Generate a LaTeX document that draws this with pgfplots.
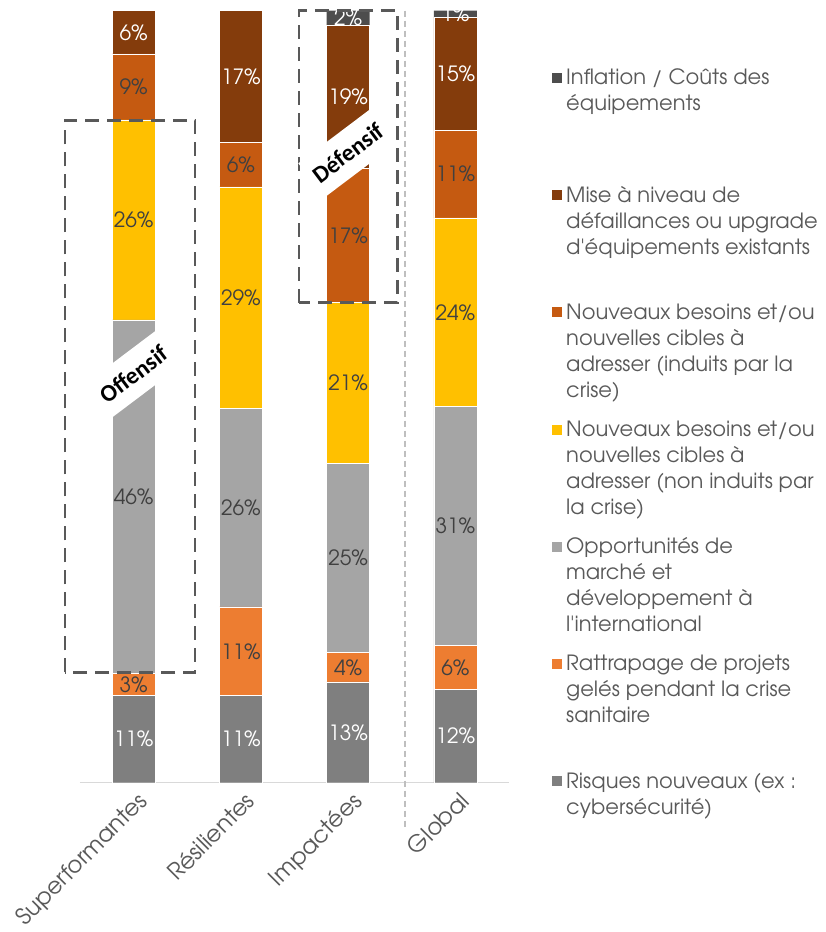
\documentclass[border=0pt]{standalone}
\usepackage{pgfplots}
\pgfplotsset{compat=1.18}
\usepackage{fontspec}
\setmainfont{TeX Gyre Adventor}
\newfontfamily\labfont{Carlito}
\definecolor{cRisk}{HTML}{7F7F7F}
\definecolor{cRatt}{HTML}{ED7D31}
\definecolor{cOpp}{HTML}{A5A5A5}
\definecolor{cNon}{HTML}{FFC000}
\definecolor{cInd}{HTML}{C55A11}
\definecolor{cMise}{HTML}{843C0C}
\definecolor{cInfl}{HTML}{4D4D4D}
\definecolor{txt}{HTML}{404040}
\definecolor{axgray}{HTML}{595959}
\newcommand{\legtext}[1]{\parbox[t]{262pt}{\raggedright\fontsize{21}{26}\selectfont #1}}
\newcommand{\ap}{\textquotesingle}
\begin{document}
\begin{tikzpicture}
\useasboundingbox (-80pt,-149.3pt) rectangle (745pt,782.7pt);
\begin{axis}[
  scale only axis, width=429pt, height=772pt,
  xmin=-0.5, xmax=3.5, ymin=0, ymax=100,
  ybar stacked, bar width=43pt,
  axis y line=none, axis x line*=bottom,
  x axis line style={draw=black!15, line width=1.5pt, -},
  xtick={0,1,2,3}, xticklabels={Superformantes,Résilientes,Impactées,Global},
  major tick length=0pt,
  xticklabel style={rotate=45, anchor=north east, yshift=-4pt, font=\fontsize{23}{27}\selectfont, text=axgray},
  clip=false,
  /pgf/number format/assume math mode=true,
  visualization depends on={rawy \as \rawy},
  nodes near coords={\pgfmathparse{int(\rawy>0.01)}\ifnum\pgfmathresult=1 \pgfmathprintnumber[fixed,precision=0]{\rawy}\%\fi},
  every node near coord/.append style={anchor=center, font=\fontsize{21}{25}\selectfont, text=txt},
]
\addplot[fill=cRisk, draw=white, line width=0.4pt, every node near coord/.append style={text=white}]
  coordinates {(0,11.27) (1,11.27) (2,13.05) (3,12.10)};
\addplot[fill=cRatt, draw=white, line width=0.4pt]
  coordinates {(0,2.90) (1,11.49) (2,3.80) (3,5.65)};
\addplot[fill=cOpp, draw=white, line width=0.4pt]
  coordinates {(0,45.77) (1,25.74) (2,24.55) (3,30.96)};
\addplot[fill=cNon, draw=white, line width=0.4pt]
  coordinates {(0,25.91) (1,28.67) (2,20.85) (3,24.45)};
\addplot[fill=cInd, draw=white, line width=0.4pt]
  coordinates {(0,8.55) (1,5.74) (2,17.30) (3,11.36)};
\addplot[fill=cMise, draw=white, line width=0.4pt, every node near coord/.append style={text=white}]
  coordinates {(0,5.60) (1,17.09) (2,18.60) (3,14.63)};
\addplot[fill=cInfl, draw=none, every node near coord/.append style={text=white}]
  coordinates {(0,0) (1,0) (2,1.85) (3,0.85)};
\draw[black!25, dash pattern=on 6pt off 4pt, line width=1.2pt] (axis cs:2.53,100) -- (axis cs:2.53,-5.7);
\coordinate (oA) at (axis cs:-0.64,14.3);
\coordinate (oB) at (axis cs:0.573,85.8);
\coordinate (dA) at (axis cs:1.54,62.2);
\coordinate (dB) at (axis cs:2.46,100);
\coordinate (oL) at (axis cs:0.0,52.9);
\coordinate (dL) at (axis cs:2.0,81.6);
\end{axis}
\draw[axgray, dash pattern=on 14pt off 8pt, line width=2.5pt] (oA) rectangle (oB);
\draw[axgray, dash pattern=on 14pt off 8pt, line width=2.5pt] (dA) rectangle (dB);
\node[fill=white, rotate=37, font=\labfont\bfseries\fontsize{24}{28}\selectfont, inner xsep=5pt, inner ysep=13pt] at (oL) {Offensif};
\node[fill=white, rotate=37, font=\labfont\bfseries\fontsize{24}{28}\selectfont, inner xsep=5pt, inner ysep=13pt] at (dL) {Défensif};
% legend
\foreach \c/\t [count=\i from 0] in {
  cInfl/{Inflation / Coûts des\\équipements},
  cMise/{Mise à niveau de\\défaillances ou upgrade\\d\ap équipements existants},
  cInd/{Nouveaux besoins et/ou\\nouvelles cibles à\\adresser (induits par la\\crise)},
  cNon/{Nouveaux besoins et/ou\\nouvelles cibles à\\adresser (non induits par\\la crise)},
  cOpp/{Opportunités de\\marché et\\développement à\\l\ap international},
  cRatt/{Rattrapage de projets\\gelés pendant la crise\\sanitaire},
  cRisk/{Risques nouveaux (ex :\\cybersécurité)}}{
  \pgfmathsetmacro{\yy}{697.7-117.2*\i}
  \fill[\c] (472pt,\yy pt+2pt) rectangle ++(10pt,10pt);
  \node[anchor=base west, inner sep=0pt, text=axgray] at (486pt,\yy pt) {\legtext{\t}};
}
\end{tikzpicture}
\end{document}
